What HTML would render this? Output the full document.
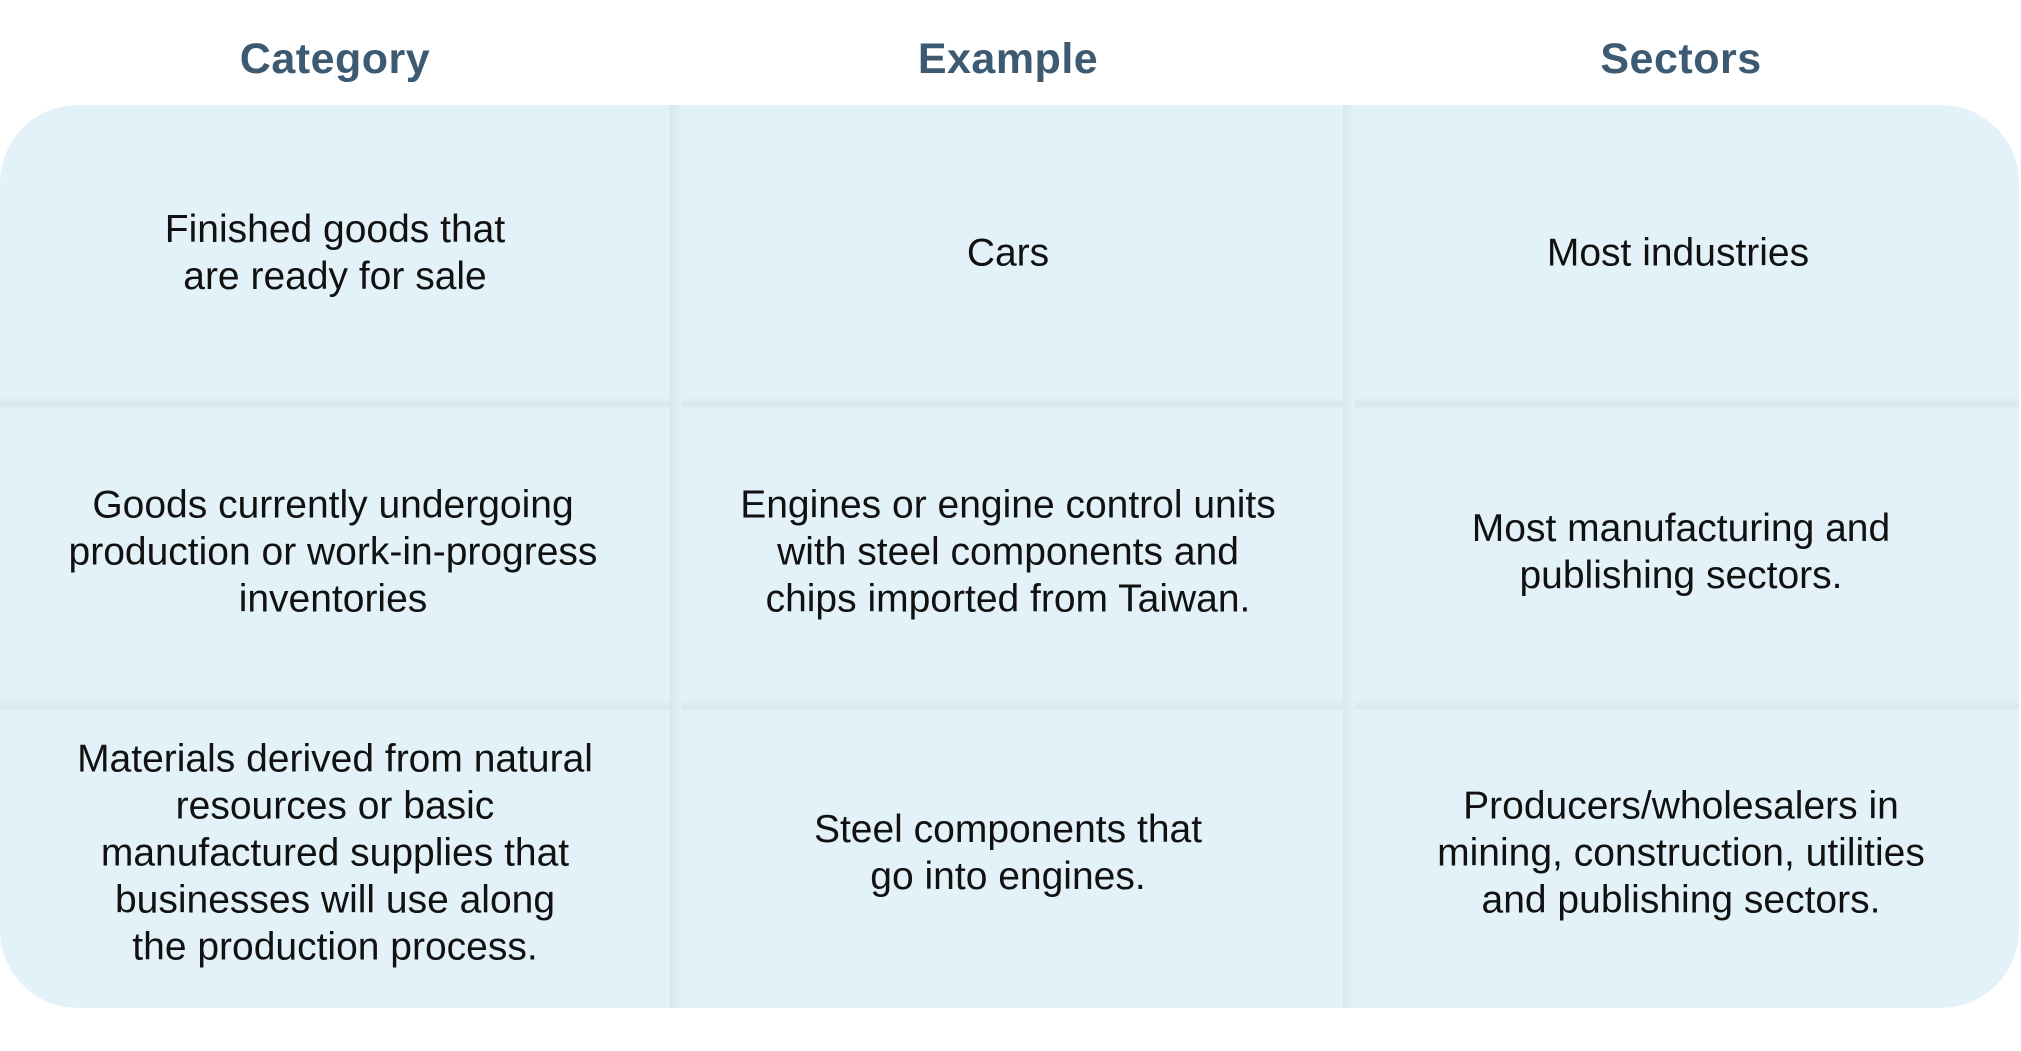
<!DOCTYPE html>
<html><head><style>
body{margin:0;width:2021px;height:1051px;background:#fff;position:relative;overflow:hidden;font-family:"Liberation Sans",sans-serif}
.h{position:absolute;top:35px;width:400px;text-align:center;font-size:43px;font-weight:bold;color:#3d5a73;letter-spacing:0.5px}
.box{position:absolute;left:0;top:105px;width:2019px;height:903px;background:#e2f2f8;border-radius:78px;overflow:hidden}
.v{position:absolute;top:0;bottom:0;width:12px;background:linear-gradient(90deg,#d8e7ee,#e2f2f8)}
.hl{position:absolute;left:0;right:0;height:12px;background:linear-gradient(180deg,#e2f2f8,#d8e7ee 70%,#e2f2f8)}
.c{position:absolute;width:640px;text-align:center;font-size:39px;line-height:47px;color:#111;transform:translate(-50%,-50%)}
</style></head><body>
<div class="h" style="left:135px">Category</div>
<div class="h" style="left:808px">Example</div>
<div class="h" style="left:1481px">Sectors</div>
<div class="box">
<div class="hl" style="top:292px"></div>
<div class="hl" style="top:594px"></div>
<div class="v" style="left:670px"></div>
<div class="v" style="left:1343px"></div>
<div class="c" style="left:335px;top:148px">Finished goods that<br>are ready for sale</div>
<div class="c" style="left:1008px;top:148px">Cars</div>
<div class="c" style="left:1678px;top:148px">Most industries</div>
<div class="c" style="left:333px;top:447px">Goods currently undergoing<br>production or work-in-progress<br>inventories</div>
<div class="c" style="left:1008px;top:447px">Engines or engine control units<br>with steel components and<br>chips imported from Taiwan.</div>
<div class="c" style="left:1681px;top:447px">Most manufacturing and<br>publishing sectors.</div>
<div class="c" style="left:335px;top:748px">Materials derived from natural<br>resources or basic<br>manufactured supplies that<br>businesses will use along<br>the production process.</div>
<div class="c" style="left:1008px;top:748px">Steel components that<br>go into engines.</div>
<div class="c" style="left:1681px;top:748px">Producers/wholesalers in<br>mining, construction, utilities<br>and publishing sectors.</div>
</div>
</body></html>
